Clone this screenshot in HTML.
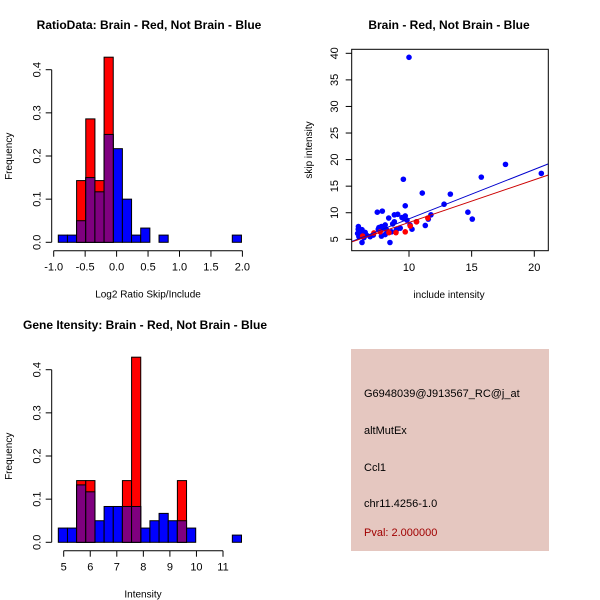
<!DOCTYPE html>
<html><head><meta charset="utf-8"><style>
body{margin:0;background:#fff}
svg{display:block;font-family:"Liberation Sans",sans-serif}
</style></head><body>
<svg id="c" width="600" height="600" xmlns="http://www.w3.org/2000/svg">
<rect width="600" height="600" fill="#fff"/>
<rect x="351" y="349" width="198" height="202" fill="#E5C7C0"/>
<g font-size="11" fill="#000">
<text x="364" y="397">G6948039@J913567_RC@j_at</text>
<text x="364" y="434">altMutEx</text>
<text x="364" y="471">Ccl1</text>
<text x="364" y="507">chr11.4256-1.0</text>
<text x="364" y="536" fill="#A00000">Pval: 2.000000</text>
</g>
</svg>
<script>
// Histogram 1 data
const h1Start=-0.927, h1Width=0.1456;
const h1Blue=[0.0167,0.0167,0.05,0.15,0.117,0.25,0.217,0.1,0.0167,0.033,0,0.0167,0,0,0,0,0,0,0,0.0167];
const h1Red=[0,0,0.143,0.286,0.143,0.429];
const h1XTicks=[-1.0,-0.5,0.0,0.5,1.0,1.5,2.0];
const h1XLabels=["-1.0","-0.5","0.0","0.5","1.0","1.5","2.0"];
const yTicks=[0,0.1,0.2,0.3,0.4];
const yLabels=["0.0","0.1","0.2","0.3","0.4"];
// Histogram 2 data
const h2Start=4.797, h2Width=0.345;
const h2Blue=[0.033,0.033,0.133,0.117,0.05,0.083,0.083,0.083,0.083,0.033,0.05,0.067,0.05,0.05,0.033,0,0,0,0,0.0167];
const h2Red=[0,0,0.143,0.143,0,0,0,0.143,0.429,0,0,0,0,0.143];
const h2XTicks=[5,6,7,8,9,10,11];
const h2XLabels=["5","6","7","8","9","10","11"];
// Scatter data
const blueX=[10.0,17.7,20.56,15.77,9.55,11.06,13.3,12.8,9.7,14.7,15.05,11.3,11.54,11.75,10.6,7.47,7.87,8.38,8.83,9.1,9.44,9.7,9.84,10.08,10.24,8.83,8.48,6.25,5.96,6.1,6.36,6.6,6.9,6.0,7.55,7.8,8.1,8.2,7.8,8.1,9.0,8.6,9.3,7.15,5.9,6.25,6.5,5.95,6.15,6.4,7.6,7.9,8.0,8.7,9.6];
const blueY=[39.25,19.1,17.4,16.7,16.3,13.7,13.5,11.6,11.3,10.1,8.8,7.6,8.8,9.6,8.3,10.1,10.3,9.0,9.6,9.7,9.1,9.4,8.6,7.7,6.9,8.3,4.4,4.4,7.4,6.4,6.1,5.8,5.5,5.5,6.9,7.4,7.7,6.8,5.6,5.9,6.8,6.4,7.1,5.8,6.1,6.8,6.3,6.9,5.6,5.3,7.2,7.1,7.3,7.9,8.9];
const redX=[9.7,8.96,8.4,7.7,10.1,10.6,11.5,7.2,6.3];
const redY=[6.4,6.25,6.25,6.4,7.5,8.3,9.0,6.2,5.6];
const blueFit=[-0.45,0.93];
const redFit=[0.14,0.803];
const scXTicks=[10,15,20];
const scYTicks=[5,10,15,20,25,30,35,40];

const NS="http://www.w3.org/2000/svg";
const svg=document.getElementById('c');
function mk(tag,attrs,parent){const e=document.createElementNS(NS,tag);for(const k in attrs)e.setAttribute(k,attrs[k]);(parent||svg).appendChild(e);return e;}
function txt(x,y,s,attrs){const t=mk('text',Object.assign({x:x,y:y,'font-size':11,'text-anchor':'middle'},attrs||{}));t.textContent=s;return t;}

function hist(cfg){
  const g=mk('g',{});
  
  
  const sx=v=>cfg.x0+(v-cfg.xa)*cfg.kx;
  const sy=v=>cfg.y0-v*cfg.ky;
  cfg.blue.forEach((v,i)=>{ if(v<=0)return;
    const r=mk('rect',{x:sx(cfg.start+i*cfg.w),y:sy(v),width:cfg.w*cfg.kx,height:v*cfg.ky,fill:'#0000FF',stroke:'#000','stroke-width':1},g);
    
    
  });
  cfg.red.forEach((v,i)=>{ if(v<=0)return;
    const r=mk('rect',{x:sx(cfg.start+i*cfg.w),y:sy(v),width:cfg.w*cfg.kx,height:v*cfg.ky,fill:'#FF0000',stroke:'#000','stroke-width':1},g);
    
    
    const b=cfg.blue[i]||0;
    if(b>0){const o=mk('rect',{x:sx(cfg.start+i*cfg.w),y:sy(Math.min(b,v)),width:cfg.w*cfg.kx,height:Math.min(b,v)*cfg.ky,fill:'#7F007F',stroke:'#000','stroke-width':1},g);
      
      }
  });
  mk('line',{x1:cfg.yax,y1:sy(0),x2:cfg.yax,y2:sy(0.4),stroke:'#000'},g);
  yTicks.forEach((t,i)=>{mk('line',{x1:cfg.yax,y1:sy(t),x2:cfg.yax-6,y2:sy(t),stroke:'#000'},g);
    const tt=txt(cfg.yax-14,sy(t),yLabels[i],{transform:`rotate(-90 ${cfg.yax-14} ${sy(t)})`,'dominant-baseline':'middle'});g.appendChild(tt);});
  const xs=cfg.xt;
  mk('line',{x1:sx(xs[0]),y1:cfg.xay,x2:sx(xs[xs.length-1]),y2:cfg.xay,stroke:'#000'},g);
  xs.forEach((t,i)=>{mk('line',{x1:sx(t),y1:cfg.xay,x2:sx(t),y2:cfg.xay+6,stroke:'#000'},g);g.appendChild(txt(sx(t),cfg.xay+20,cfg.xl[i]));});
  const yl=txt(12,cfg.y0-86,'Frequency',{'font-size':10,transform:`rotate(-90 12 ${cfg.y0-86})`});g.appendChild(yl);
  g.appendChild(txt(cfg.xlabX,cfg.xay+47,cfg.xlab,{'font-size':10}));
  g.appendChild(txt(cfg.titleX,cfg.titleY,cfg.title,{'font-size':12,'font-weight':'bold'}));
}
hist({name:'ratio-histogram',blue:h1Blue,red:h1Red,start:h1Start,w:h1Width,x0:53.7,xa:-1,kx:62.9,y0:242.3,ky:431.5,yax:51.7,xay:250.7,xt:h1XTicks,xl:h1XLabels,xlab:'Log2 Ratio Skip/Include',xlabX:148,title:'RatioData: Brain - Red, Not Brain - Blue',titleX:149,titleY:29});
hist({name:'intensity-histogram',blue:h2Blue,red:h2Red,start:h2Start,w:h2Width,x0:63.7,xa:5,kx:26.55,y0:542.3,ky:431.5,yax:51.7,xay:550.7,xt:h2XTicks,xl:h2XLabels,xlab:'Intensity',xlabX:143,title:'Gene Itensity: Brain - Red, Not Brain - Blue',titleX:145,titleY:329});

const sg=mk('g',{});


const px=v=>409+(v-10)*12.53, py=v=>239.3-(v-5)*5.314;
const X0=5.43,X1=21.12;
const clip=mk('clipPath',{id:'cp'},sg);mk('rect',{x:351.7,y:49.3,width:196.6,height:201.4},clip);
const pts=mk('g',{'clip-path':'url(#cp)'},sg);
blueX.forEach((x,i)=>{const c=mk('circle',{cx:px(x),cy:py(blueY[i]),r:2.8,fill:'#0000FF'},pts);
  
  });
redX.forEach((x,i)=>{const c=mk('circle',{cx:px(x),cy:py(redY[i]),r:2.8,fill:'#FF0000'},pts);
  
  });
const bl=mk('line',{x1:px(X0),y1:py(blueFit[0]+blueFit[1]*X0),x2:px(X1),y2:py(blueFit[0]+blueFit[1]*X1),stroke:'#0000CD'},pts);


const rl=mk('line',{x1:px(X0),y1:py(redFit[0]+redFit[1]*X0),x2:px(X1),y2:py(redFit[0]+redFit[1]*X1),stroke:'#CC0000'},pts);


mk('rect',{x:351.7,y:49.3,width:196.6,height:201.4,fill:'none',stroke:'#000'},sg);
scXTicks.forEach(t=>{mk('line',{x1:px(t),y1:250.7,x2:px(t),y2:256.7,stroke:'#000'},sg);sg.appendChild(txt(px(t),271,String(t)));});
scYTicks.forEach(t=>{mk('line',{x1:351.7,y1:py(t),x2:345.7,y2:py(t),stroke:'#000'},sg);
  const tt=txt(335,py(t),String(t),{transform:`rotate(-90 335 ${py(t)})`,'dominant-baseline':'middle'});sg.appendChild(tt);});
sg.appendChild(txt(449,298,'include intensity',{'font-size':10}));
sg.appendChild(txt(312,150,'skip intensity',{'font-size':10,transform:'rotate(-90 312 150)'}));
sg.appendChild(txt(449,29,'Brain - Red, Not Brain - Blue',{'font-size':12,'font-weight':'bold'}));
</script>
</body></html>
